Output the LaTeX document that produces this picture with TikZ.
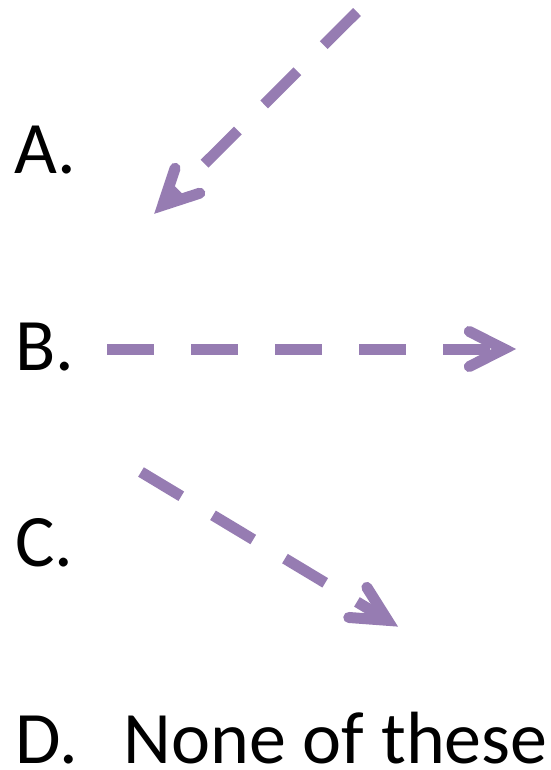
\documentclass[tikz,border=0pt]{standalone}
\usepackage{fontspec}
\setmainfont{Carlito}
\usetikzlibrary{calc}
\definecolor{arrowpurple}{RGB}{150,124,178}
\tikzset{
  lbl/.style={anchor=base west, inner sep=0pt, font=\fontsize{74}{80}\selectfont},
  shaft/.style={draw=arrowpurple, line width=11pt, line cap=butt, dash pattern=on 47pt off 37pt},
  headline/.style={draw=arrowpurple, line width=11pt, line cap=round, line join=miter, miter limit=10}
}
\begin{document}
\begin{tikzpicture}[x=1pt,y=-1pt]
\useasboundingbox (0,0) rectangle (550,770);
% labels
\node[lbl] (la) at (14,173) {A.};
\node[lbl] (lb) at (15.5,370) {B.};
\node[lbl] (lc) at (15,566) {C.};
\node[lbl] (ld) at (15.5,763.5) {D.};
\node[lbl] (ldt) at (123.5,763.5) {None of these};
% arrow A
\coordinate (sa) at (357,12);
\coordinate (ta) at (155,213);
% arrow B
\coordinate (sb) at (107,349);
\coordinate (tb) at (515,349);
% arrow C
\coordinate (sc) at (141,472);
\coordinate (tc) at (397,626);
\foreach \s/\t in {sa/ta, sb/tb, sc/tc}{
  \coordinate (j) at ($(\t)!11pt!(\s)$);
  \coordinate (a1) at ($(\t)!49pt!21:(\s)$);
  \coordinate (a2) at ($(\t)!49pt!-21:(\s)$);
  \draw[shaft] (\s) -- (j);
  \draw[headline] (a1) -- (j) -- (a2);
}
\end{tikzpicture}
\end{document}
